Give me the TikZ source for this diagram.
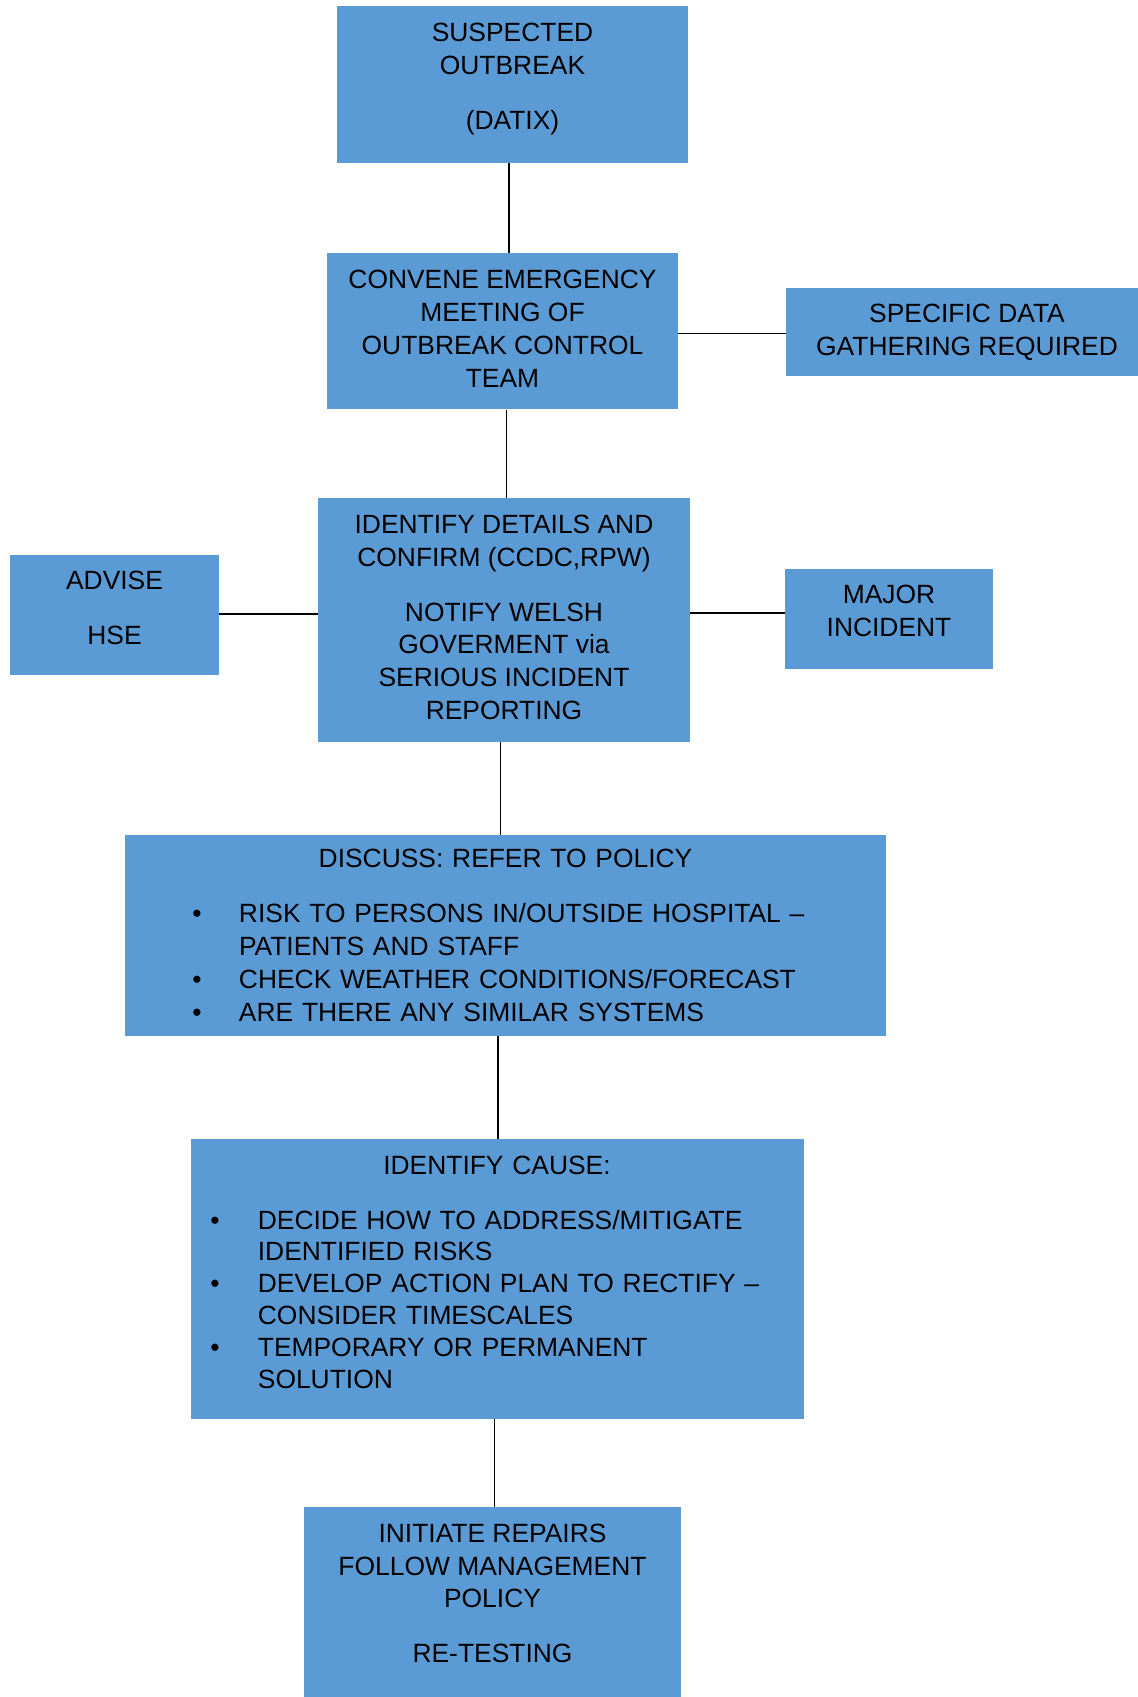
\documentclass[tikz,border=0pt]{standalone}
\usepackage{fontspec}
\setmainfont{Liberation Sans}
\usepackage{xcolor}
\usetikzlibrary{positioning,calc}

\definecolor{boxblue}{HTML}{5B9BD5}

\newlength\bulpos
\newlength\bulind
\newcommand{\bitem}[1]{\par\noindent\hangindent=\bulind\hangafter=1%
  \hspace*{\bulpos}\makebox[\dimexpr\bulind-\bulpos\relax][l]{\textbullet}#1}

\begin{document}
\begin{tikzpicture}[
    x=0.5pt, y=-0.5pt,
    box/.style={rectangle, fill=boxblue, inner sep=0pt, align=center,
      font=\fontsize{13.2}{16.4}\selectfont},
    link/.style={draw=black, line width=0.6pt}
]
\useasboundingbox (0,0) rectangle (1138,1697);
\clip (0,0) rectangle (1138,1697);

% boxes
\node[box, minimum width=175.5pt, minimum height=78.5pt] (suspect) at (512.5,84.5)
  {SUSPECTED\\OUTBREAK\\[11pt](DATIX)\rule[-8.5pt]{0pt}{0pt}};
\node[box, minimum width=175.5pt, minimum height=78pt] (convene) at (502.5,331.3)
  {CONVENE EMERGENCY\\MEETING OF\\OUTBREAK CONTROL\\TEAM\rule[-2.7pt]{0pt}{0pt}};
\node[box, minimum width=176pt, minimum height=44pt] (datagather) at (962,332)
  {\hspace*{5pt}SPECIFIC DATA\\\hspace*{5pt}GATHERING REQUIRED};
\node[box, minimum width=185.7pt, minimum height=122pt] (identify) at (504,620)
  {IDENTIFY DETAILS AND\\CONFIRM (CCDC,RPW)\\[11pt]NOTIFY WELSH\\GOVERMENT via\\SERIOUS INCIDENT\\REPORTING\rule[-2.7pt]{0pt}{0pt}};
\node[box, minimum width=104.5pt, minimum height=60pt] (advise) at (114.5,615)
  {ADVISE\\[11pt]HSE\rule[-7.5pt]{0pt}{0pt}};
\node[box, minimum width=104pt, minimum height=50.25pt] (major) at (889,619)
  {MAJOR\\INCIDENT\rule[-8pt]{0pt}{0pt}};
\node[box, minimum width=380.5pt, minimum height=100.5pt, text width=380.5pt, align=left] (discuss) at (505.5,935.5)
  {\setlength\bulpos{33.7pt}\setlength\bulind{57pt}%
   {\centering DISCUSS: REFER TO POLICY\par}\vspace{11pt}%
   \bitem{RISK TO PERSONS IN/OUTSIDE HOSPITAL –\newline PATIENTS AND STAFF}
   \bitem{CHECK WEATHER CONDITIONS/FORECAST}
   \bitem{ARE THERE ANY SIMILAR SYSTEMS}\par};
\node[box, minimum width=306.5pt, minimum height=139.75pt, text width=306.5pt, align=left,
      font=\fontsize{13.2}{15.9}\selectfont] (cause) at (497,1279)
  {\setlength\bulpos{9.9pt}\setlength\bulind{33.7pt}%
   {\centering IDENTIFY CAUSE:\par}\vspace{11.5pt}%
   \bitem{DECIDE HOW TO ADDRESS/MITIGATE\newline IDENTIFIED RISKS}
   \bitem{DEVELOP ACTION PLAN TO RECTIFY –\newline CONSIDER TIMESCALES}
   \bitem{TEMPORARY OR PERMANENT\newline SOLUTION\rule[-7pt]{0pt}{0pt}}\par};
\node[box, anchor=north, minimum width=188.5pt, inner ysep=8.2pt] (repairs) at (492.5,1507)
  {INITIATE REPAIRS\\FOLLOW MANAGEMENT\\POLICY\\[11pt]RE-TESTING\rule[-40pt]{0pt}{0pt}};

% connectors
\draw[link] ([xshift=-1.75pt]suspect.south) -- ([xshift=-1.75pt]suspect.south |- convene.north);
\draw[link] ([yshift=-1pt]convene.east) -- ([yshift=-1pt]convene.east -| datagather.west);
\draw[link] ([xshift=2.1pt]convene.south) -- ([xshift=2.1pt]convene.south |- identify.north);
\draw[link] ([yshift=3pt]identify.west) -- ([yshift=3pt]identify.west -| advise.east);
\draw[link] ([yshift=3.5pt]identify.east) -- ([yshift=3.5pt]identify.east -| major.west);
\draw[link] ([xshift=-1.85pt]identify.south) -- ([xshift=-1.85pt]identify.south |- discuss.north);
\draw[link] ([xshift=-3.75pt]discuss.south) -- ([xshift=-3.75pt]discuss.south |- cause.north);
\draw[link] ([xshift=-1.1pt]cause.south) -- ([xshift=-1.1pt]cause.south |- repairs.north);

\end{tikzpicture}
\end{document}
